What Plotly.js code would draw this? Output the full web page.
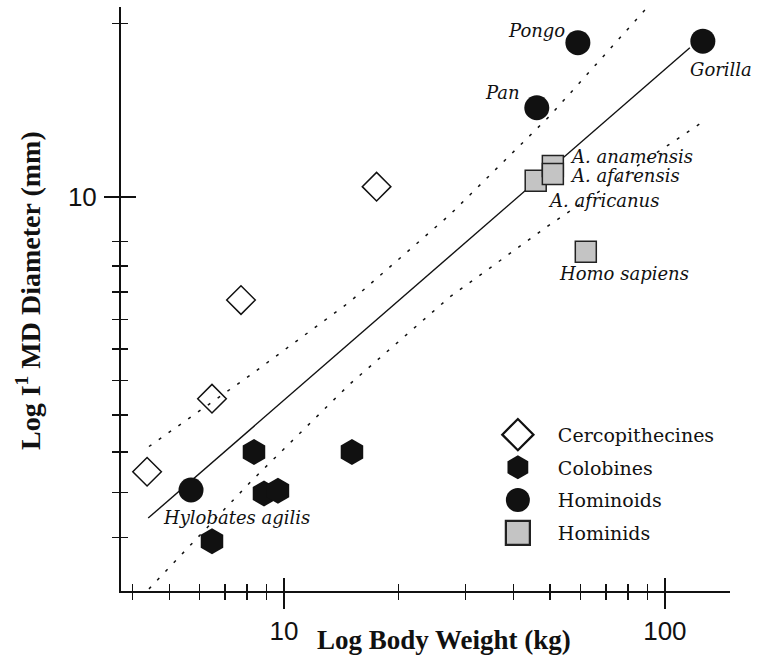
<!DOCTYPE html>
<html>
<head>
<meta charset="utf-8">
<script src="https://cdn.plot.ly/plotly-3.0.1.min.js"></script>
<style>
  html, body { margin: 0; padding: 0; background: #ffffff; }
  #chart { width: 759px; height: 662px; }
</style>
</head>
<body>
<div id="chart"></div>
<script>
// ---- Data (body weight kg, I1 MD diameter mm) ----
const cercX = [4.37, 6.47, 7.71, 17.5];
const cercY = [5.25, 6.23, 7.85, 10.24];

const coloX = [8.34, 8.86, 9.64, 15.08, 6.47];
const coloY = [5.50, 4.99, 5.02, 5.50, 4.46];

const hominoidNames = ['Hylobates agilis', 'Pan', 'Pongo', 'Gorilla'];
const hominoidX = [5.70, 46.1, 59.1, 125.8];
const hominoidY = [5.03, 12.32, 14.35, 14.40];

const hominidNames = ['A. africanus', 'A. anamensis', 'A. afarensis', 'Homo sapiens'];
const hominidX = [45.8, 50.8, 50.8, 62.0];
const hominidY = [10.38, 10.75, 10.55, 8.79];

// regression line and confidence band
const fitX = [4.40, 116.3];
const fitY = [4.71, 14.18];
const upperX = [4.42, 8.14, 14.90, 27.28, 49.9, 89.7];
const upperY = [5.57, 6.58, 7.82, 9.59, 12.09, 15.57];
const lowerX = [4.42, 8.14, 14.90, 27.28, 49.9, 125.8];
const lowerY = [3.99, 5.12, 6.45, 7.91, 9.37, 11.92];

// axis ticks
const xMajor = [10, 100];
const xMajorText = ['10', '100'];
const xMinor = [4, 5, 6, 7, 8, 9, 20, 30, 40, 50, 60, 70, 80, 90];
const yMajor = [10];
const yMajorText = ['10'];
const yMinor = [4.5, 5, 5.5, 6, 6.5, 7, 7.5, 8, 8.5, 9, 15];

const xRange = [0.572, 2.171];
const yRange = [Math.log10(3.97), Math.log10(15.6)];

// label placement (pixel offsets, styling only)
const hominoidLabelPos = [
  {xa: 'left', xs: -30, ys: -27},
  {xa: 'right', xs: -15, ys: 15},
  {xa: 'right', xs: -11, ys: 12},
  {xa: 'left', xs: -15, ys: -28}
];
const hominidLabelPos = [
  {xa: 'left', xs: 10, ys: -20},
  {xa: 'left', xs: 15, ys: 9},
  {xa: 'left', xs: 15, ys: -2},
  {xa: 'left', xs: -29, ys: -22}
];

const serif = 'DejaVu Serif, Liberation Serif, serif';
const timesB = 'Liberation Serif, Times New Roman, serif';
const sans = 'Liberation Sans, Arial, sans-serif';

const traces = [
  // upper band drawn on the overlay x axis (same range) so that its inside ticks are rendered
  {x: upperX, y: upperY, xaxis: 'x2', yaxis: 'y', mode: 'lines', line: {color: '#111', width: 1.5, dash: '3px,9px'}, showlegend: false, hoverinfo: 'skip'},
  // lower band drawn on the overlay y axis (same range)
  {x: lowerX, y: lowerY, xaxis: 'x', yaxis: 'y2', mode: 'lines', line: {color: '#111', width: 1.5, dash: '3px,9px'}, showlegend: false, hoverinfo: 'skip'},
  {x: fitX, y: fitY, mode: 'lines', line: {color: '#111', width: 1.4}, showlegend: false, hoverinfo: 'skip'},
  {x: cercX, y: cercY, mode: 'markers', name: 'Cercopithecines', legendgroup: 'a',
   marker: {symbol: 'diamond-open', size: 22, color: '#111', line: {width: 1.5, color: '#111'}}},
  {x: coloX, y: coloY, mode: 'markers', name: 'Colobines', legendgroup: 'b',
   marker: {symbol: 'hexagon', size: 26, color: '#111', line: {width: 0}}},
  {x: hominoidX, y: hominoidY, mode: 'markers', name: 'Hominoids', legendgroup: 'c', text: hominoidNames,
   marker: {symbol: 'circle', size: 25, color: '#111', line: {width: 0}}},
  {x: hominidX, y: hominidY, mode: 'markers', name: 'Hominids', legendgroup: 'd', text: hominidNames,
   marker: {symbol: 'square', size: 21, color: '#c4c4c4', line: {width: 1.5, color: '#222'}}}
];

const annotations = [];
hominoidNames.forEach((n, i) => {
  const p = hominoidLabelPos[i];
  annotations.push({x: Math.log10(hominoidX[i]), y: Math.log10(hominoidY[i]), xref: 'x', yref: 'y',
    text: '<i>' + n + '</i>', showarrow: false, xanchor: p.xa, yanchor: 'middle', xshift: p.xs, yshift: p.ys,
    font: {family: serif, size: 18, color: '#111'}});
});
hominidNames.forEach((n, i) => {
  const p = hominidLabelPos[i];
  annotations.push({x: Math.log10(hominidX[i]), y: Math.log10(hominidY[i]), xref: 'x', yref: 'y',
    text: '<i>' + n + '</i>', showarrow: false, xanchor: p.xa, yanchor: 'middle', xshift: p.xs, yshift: p.ys,
    font: {family: serif, size: 18, color: '#111'}});
});
// axis titles, placed where the reference has them (beside the tick labels)
annotations.push({xref: 'paper', yref: 'paper', x: 0.531, y: -0.084, xanchor: 'center', yanchor: 'middle',
  text: '<b>Log Body Weight (kg)</b>', showarrow: false, font: {family: timesB, size: 27, color: '#111'}});
annotations.push({xref: 'paper', yref: 'paper', x: -0.151, y: 0.5137, xanchor: 'center', yanchor: 'middle', textangle: -90,
  text: '<b>Log I<sup>1</sup> MD Diameter (mm)</b>', showarrow: false, font: {family: timesB, size: 28, color: '#111'}});

const axisCommon = {type: 'log', showgrid: false, zeroline: false, color: '#111'};

const layout = {
  width: 759, height: 662,
  margin: {l: 121, r: 29, t: 7, b: 71},
  paper_bgcolor: '#ffffff', plot_bgcolor: '#ffffff',
  showlegend: true,
  legend: {x: 0.586, y: 0.30, xanchor: 'left', yanchor: 'top', bgcolor: 'rgba(0,0,0,0)',
    font: {family: serif, size: 19, color: '#111'}, itemwidth: 70, traceorder: 'grouped', tracegroupgap: 5},
  xaxis: Object.assign({}, axisCommon, {
    range: xRange, showline: true, linewidth: 2, linecolor: '#111',
    ticks: 'outside', ticklen: 16, tickwidth: 2, tickcolor: '#111',
    tickmode: 'array', tickvals: xMajor, ticktext: xMajorText, ticklabelstandoff: 0,
    tickfont: {family: sans, size: 26, color: '#111'},
    minor: {tickmode: 'array', tickvals: xMinor, ticks: 'outside', ticklen: 7, tickwidth: 1.5, tickcolor: '#111', showgrid: false}
  }),
  xaxis2: Object.assign({}, axisCommon, {
    range: xRange, overlaying: 'x', anchor: 'y', side: 'bottom', showline: false,
    ticks: 'inside', ticklen: 13, tickwidth: 2, tickcolor: '#111',
    tickmode: 'array', tickvals: xMajor, showticklabels: false,
    minor: {tickmode: 'array', tickvals: xMinor, ticks: 'inside', ticklen: 7, tickwidth: 1.5, tickcolor: '#111', showgrid: false}
  }),
  yaxis: Object.assign({}, axisCommon, {
    range: yRange, showline: true, linewidth: 2, linecolor: '#111',
    ticks: 'outside', ticklen: 15, tickwidth: 2, tickcolor: '#111',
    tickmode: 'array', tickvals: yMajor, ticktext: yMajorText, ticklabelstandoff: 2,
    tickfont: {family: sans, size: 26, color: '#111'},
    minor: {tickmode: 'array', tickvals: yMinor, ticks: 'outside', ticklen: 7, tickwidth: 1.5, tickcolor: '#111', showgrid: false}
  }),
  yaxis2: Object.assign({}, axisCommon, {
    range: yRange, overlaying: 'y', anchor: 'x', side: 'left', showline: false,
    ticks: 'inside', ticklen: 15, tickwidth: 2, tickcolor: '#111',
    tickmode: 'array', tickvals: yMajor, showticklabels: false,
    minor: {tickmode: 'array', tickvals: yMinor, ticks: 'inside', ticklen: 7, tickwidth: 1.5, tickcolor: '#111', showgrid: false}
  }),
  annotations: annotations
};

Plotly.newPlot('chart', traces, layout, {staticPlot: true}).then(gd => {
  // enlarge legend symbols (Plotly caps legend marker size at 16px)
  gd.querySelectorAll('.legend .legendpoints path.scatterpts').forEach(p => {
    const t = p.getAttribute('transform') || '';
    p.setAttribute('transform', t + ' scale(1.5)');
  });
});
</script>
</body>
</html>
